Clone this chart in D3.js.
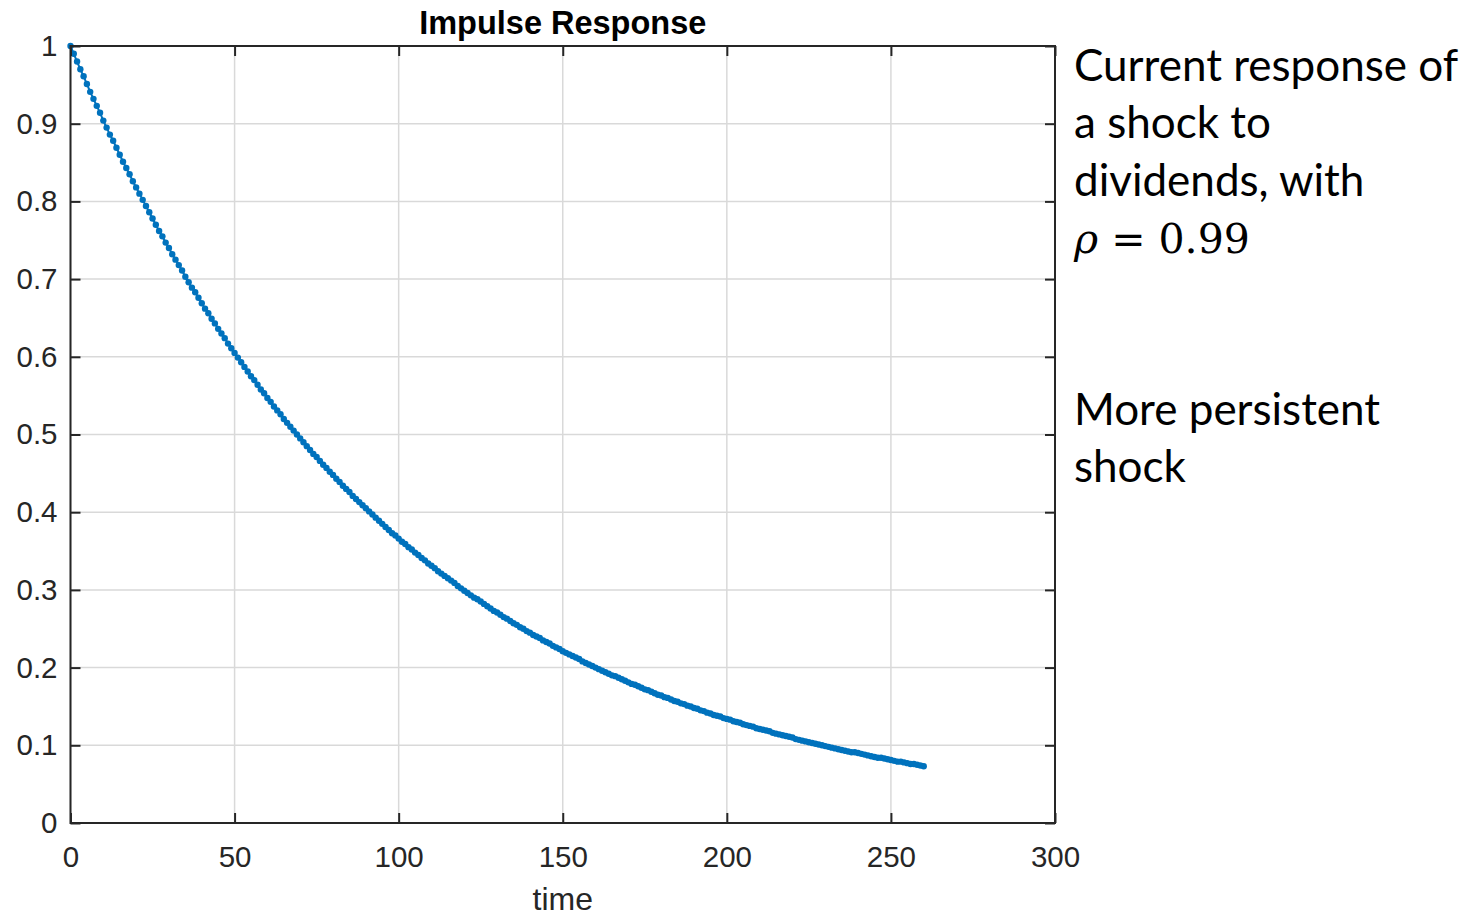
<!DOCTYPE html>
<html>
<head>
<meta charset="utf-8">
<script src="https://cdn.jsdelivr.net/npm/d3@7"></script>
<style>
  body { margin: 0; background: #fff; }
  svg { display: block; }
</style>
</head>
<body>
<script>
// impulse response values, one per time step (t = 0..260)
var response = [
  1.000, 0.990, 0.980, 0.970, 0.961, 0.951, 0.941, 0.932, 0.923, 0.914,
  0.904, 0.895, 0.886, 0.878, 0.869, 0.860, 0.851, 0.843, 0.835, 0.826,
  0.818, 0.810, 0.802, 0.794, 0.786, 0.778, 0.770, 0.762, 0.755, 0.747,
  0.740, 0.732, 0.725, 0.718, 0.711, 0.703, 0.696, 0.689, 0.683, 0.676,
  0.669, 0.662, 0.656, 0.649, 0.643, 0.636, 0.630, 0.624, 0.617, 0.611,
  0.605, 0.599, 0.593, 0.587, 0.581, 0.575, 0.570, 0.564, 0.558, 0.553,
  0.547, 0.542, 0.536, 0.531, 0.526, 0.520, 0.515, 0.510, 0.505, 0.500,
  0.495, 0.490, 0.485, 0.480, 0.475, 0.471, 0.466, 0.461, 0.457, 0.452,
  0.448, 0.443, 0.439, 0.434, 0.430, 0.426, 0.421, 0.417, 0.413, 0.409,
  0.405, 0.401, 0.397, 0.393, 0.389, 0.385, 0.381, 0.377, 0.373, 0.370,
  0.366, 0.362, 0.359, 0.355, 0.352, 0.348, 0.345, 0.341, 0.338, 0.334,
  0.331, 0.328, 0.324, 0.321, 0.318, 0.315, 0.312, 0.309, 0.305, 0.302,
  0.299, 0.296, 0.293, 0.290, 0.288, 0.285, 0.282, 0.279, 0.276, 0.273,
  0.271, 0.268, 0.265, 0.263, 0.260, 0.257, 0.255, 0.252, 0.250, 0.247,
  0.245, 0.242, 0.240, 0.238, 0.235, 0.233, 0.231, 0.228, 0.226, 0.224,
  0.221, 0.219, 0.217, 0.215, 0.213, 0.211, 0.208, 0.206, 0.204, 0.202,
  0.200, 0.198, 0.196, 0.194, 0.192, 0.190, 0.189, 0.187, 0.185, 0.183,
  0.181, 0.179, 0.178, 0.176, 0.174, 0.172, 0.171, 0.169, 0.167, 0.165,
  0.164, 0.162, 0.161, 0.159, 0.157, 0.156, 0.154, 0.153, 0.151, 0.150,
  0.148, 0.147, 0.145, 0.144, 0.142, 0.141, 0.139, 0.138, 0.137, 0.135,
  0.134, 0.133, 0.131, 0.130, 0.129, 0.127, 0.126, 0.125, 0.124, 0.122,
  0.121, 0.120, 0.119, 0.118, 0.116, 0.115, 0.114, 0.113, 0.112, 0.111,
  0.110, 0.108, 0.107, 0.106, 0.105, 0.104, 0.103, 0.102, 0.101, 0.100,
  0.099, 0.098, 0.097, 0.096, 0.095, 0.094, 0.093, 0.092, 0.091, 0.091,
  0.090, 0.089, 0.088, 0.087, 0.086, 0.085, 0.084, 0.084, 0.083, 0.082,
  0.081, 0.080, 0.079, 0.079, 0.078, 0.077, 0.076, 0.076, 0.075, 0.074,
  0.073
];

var xTicks = [0, 50, 100, 150, 200, 250, 300];
var yTicks = [0, 0.1, 0.2, 0.3, 0.4, 0.5, 0.6, 0.7, 0.8, 0.9, 1];
var title = "Impulse Response";
var xLabel = "time";
var noteLines = ["Current response of", "a shock to", "dividends, with"];
var noteRho = ["\u03C1", " = 0.99"];
var note2Lines = ["More persistent", "shock"];

var width = 1483,
  height = 916,
  plot = { left: 70.5, top: 46, right: 1055, bottom: 823 },
  axisColor = "#262626",
  lineColor = "#0072BD";

var svg = d3.select("body").append("svg")
  .attr("width", width)
  .attr("height", height);

var x = d3.scaleLinear().domain([0, 300]).range([plot.left, plot.right]),
  y = d3.scaleLinear().domain([0, 1]).range([plot.bottom, plot.top]);

// grid
var grid = svg.append("g").attr("class", "grid");
grid.selectAll("line.gx")
  .data(xTicks)
  .enter().append("line")
  .attr("x1", x).attr("x2", x)
  .attr("y1", plot.top).attr("y2", plot.bottom)
  .attr("stroke", "#d9d9d9")
  .attr("stroke-width", 1.5);
grid.selectAll("line.gy")
  .data(yTicks)
  .enter().append("line")
  .attr("y1", y).attr("y2", y)
  .attr("x1", plot.left).attr("x2", plot.right)
  .attr("stroke", "#d9d9d9")
  .attr("stroke-width", 1.5);

// series
var line = d3.line()
  .x(function (d, i) { return x(i); })
  .y(function (d) { return y(d); });

svg.append("path")
  .datum(response)
  .attr("fill", "none")
  .attr("stroke", lineColor)
  .attr("stroke-width", 2)
  .attr("d", line);

svg.append("g")
  .selectAll("circle")
  .data(response)
  .enter().append("circle")
  .attr("cx", function (d, i) { return x(i); })
  .attr("cy", function (d) { return y(d); })
  .attr("r", 3.2)
  .attr("fill", lineColor);

// axes, ticks inward on all four sides
var tickFont = "'Liberation Sans', Arial, Helvetica, sans-serif";

function styleAxis(g) {
  g.select(".domain").remove();
  g.selectAll(".tick line").attr("stroke", axisColor).attr("stroke-width", 2);
  g.selectAll(".tick text")
    .attr("fill", axisColor)
    .style("font-family", tickFont)
    .style("font-size", "29.5px");
}

svg.append("g")
  .attr("transform", "translate(0," + plot.bottom + ")")
  .call(d3.axisBottom(x).tickValues(xTicks).tickSizeInner(-10).tickSizeOuter(0)
    .tickPadding(23).tickFormat(d3.format("d")))
  .call(styleAxis);

svg.append("g")
  .attr("transform", "translate(0," + plot.top + ")")
  .call(d3.axisTop(x).tickValues(xTicks).tickSizeInner(-10).tickSizeOuter(0)
    .tickFormat(""))
  .call(styleAxis);

svg.append("g")
  .attr("transform", "translate(" + plot.left + ",0)")
  .call(d3.axisLeft(y).tickValues(yTicks).tickSizeInner(-10).tickSizeOuter(0)
    .tickPadding(13).tickFormat(function (d) { return d === 0 || d === 1 ? d : d3.format(".1f")(d); }))
  .call(styleAxis);

svg.append("g")
  .attr("transform", "translate(" + plot.right + ",0)")
  .call(d3.axisRight(y).tickValues(yTicks).tickSizeInner(-10).tickSizeOuter(0)
    .tickFormat(""))
  .call(styleAxis);

// box
svg.append("rect")
  .attr("x", plot.left).attr("y", plot.top)
  .attr("width", plot.right - plot.left)
  .attr("height", plot.bottom - plot.top)
  .attr("fill", "none")
  .attr("stroke", axisColor)
  .attr("stroke-width", 2);

// title and axis label
svg.append("text")
  .attr("x", (plot.left + plot.right) / 2)
  .attr("y", 34)
  .attr("text-anchor", "middle")
  .style("font-family", tickFont)
  .style("font-weight", "bold")
  .style("font-size", "32.5px")
  .attr("fill", "#000")
  .text(title);

svg.append("text")
  .attr("x", (plot.left + plot.right) / 2)
  .attr("y", 910)
  .attr("text-anchor", "middle")
  .style("font-family", tickFont)
  .style("font-size", "32px")
  .attr("fill", axisColor)
  .text(xLabel);

// side notes
var noteFont = "Lato, 'Open Sans', sans-serif",
  noteX = 1074,
  lineStep = 57.3;

var notes = svg.append("g")
  .style("font-family", noteFont)
  .style("font-size", "44px")
  .attr("fill", "#000");

notes.selectAll("text.n1")
  .data(noteLines)
  .enter().append("text")
  .attr("x", noteX)
  .attr("y", function (d, i) { return 81 + i * lineStep; })
  .text(function (d) { return d; });

var rho = notes.append("text")
  .attr("x", noteX)
  .attr("y", 81 + 3 * lineStep)
  .style("font-family", "'DejaVu Serif', 'Liberation Serif', serif")
  .style("font-size", "41px");
rho.append("tspan").style("font-style", "italic").text(noteRho[0]);
rho.append("tspan").text(noteRho[1]);

notes.selectAll("text.n2")
  .data(note2Lines)
  .enter().append("text")
  .attr("x", noteX)
  .attr("y", function (d, i) { return 425 + i * lineStep; })
  .text(function (d) { return d; });
</script>
</body>
</html>
